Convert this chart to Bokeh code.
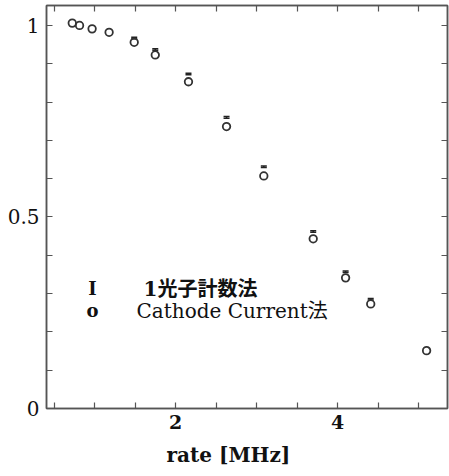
import numpy as np
from bokeh.plotting import figure
from bokeh.models import (ColumnDataSource, FixedTicker, LinearAxis, Label,
                          Whisker, TeeHead, Title)
from bokeh.embed import file_html
from bokeh.resources import INLINE

# Cathode current method: relative efficiency vs. count rate
rate_cc = [0.725, 0.815, 0.97, 1.18, 1.49, 1.75, 2.16, 2.63, 3.09, 3.70, 4.10, 4.41, 5.10]
eff_cc = [1.006, 1.000, 0.991, 0.982, 0.956, 0.923, 0.853, 0.736, 0.607, 0.443, 0.341, 0.273, 0.151]

# Single-photon counting method: value and error
rate_pc = [1.49, 1.75, 2.16, 2.63, 3.09, 3.70, 4.10, 4.41]
eff_pc = [0.967, 0.937, 0.873, 0.760, 0.631, 0.462, 0.357, 0.285]
err_pc = [0.002, 0.002, 0.002, 0.002, 0.002, 0.002, 0.002, 0.002]

x_labeled = [2, 4]
y_labeled = [0, 0.5, 1]
x_all = [float(t) for t in np.arange(0.5, 5.01, 0.5)]
y_all = [round(float(t), 1) for t in np.arange(0.0, 1.01, 0.1)]

SERIF = "DejaVu Serif, Noto Sans CJK JP"
AX = "#555555"
INK = "#111111"

p = figure(width=449, height=476, x_range=(0.407, 5.358), y_range=(0, 1.052),
           output_backend="svg", toolbar_location=None,
           min_border_left=46, min_border_right=2, min_border_top=5,
           min_border_bottom=68)
p.xgrid.visible = False
p.ygrid.visible = False
p.outline_line_color = AX
p.outline_line_width = 1.5
p.background_fill_color = "white"
p.border_fill_color = "white"


def style_axis(ax, ticker):
    ax.ticker = ticker
    ax.axis_line_color = AX
    ax.axis_line_width = 1.5
    ax.major_tick_line_color = AX
    ax.minor_tick_line_color = AX
    ax.major_tick_line_width = 1.2
    ax.minor_tick_line_width = 1.2
    ax.major_tick_in = 6
    ax.major_tick_out = 0
    ax.minor_tick_in = 6
    ax.minor_tick_out = 0


style_axis(p.xaxis[0], FixedTicker(ticks=x_labeled,
                                   minor_ticks=[t for t in x_all if t not in x_labeled]))
style_axis(p.yaxis[0], FixedTicker(ticks=y_labeled,
                                   minor_ticks=[t for t in y_all if t not in y_labeled]))
p.xaxis.major_label_text_font = SERIF
p.xaxis.major_label_text_font_size = "19px"
p.xaxis.major_label_text_font_style = "bold"
p.xaxis.major_label_text_color = INK
p.xaxis.major_label_standoff = 6
p.yaxis.major_label_text_font = SERIF
p.yaxis.major_label_text_font_size = "20px"
p.yaxis.major_label_text_color = INK
p.yaxis.major_label_standoff = 7

# mirrored tick marks on the top and right edges (ticks only, no labels)
top = LinearAxis()
right = LinearAxis()
style_axis(top, FixedTicker(ticks=[], minor_ticks=x_all))
style_axis(right, FixedTicker(ticks=[], minor_ticks=y_all))
p.add_layout(top, "above")
p.add_layout(right, "right")

# x-axis title, set slightly left of centre
p.add_layout(Title(text="rate [MHz]", align="left", offset=120, standoff=18,
                   text_font=SERIF, text_font_size="20px", text_font_style="bold",
                   text_color=INK), "below")

# cathode current points
p.scatter(rate_cc, eff_cc, marker="circle", size=7.5, fill_color=None,
          line_color="#333333", line_width=1.8)

# photon counting error bars
src_pc = ColumnDataSource(dict(
    x=rate_pc,
    upper=[v + e for v, e in zip(eff_pc, err_pc)],
    lower=[v - e for v, e in zip(eff_pc, err_pc)],
))
p.add_layout(Whisker(source=src_pc, base="x", upper="upper", lower="lower",
                     dimension="height", line_color="#222222", line_width=1.5,
                     upper_head=TeeHead(size=6, line_color="#222222", line_width=1.5),
                     lower_head=TeeHead(size=6, line_color="#222222", line_width=1.5)))

# legend drawn as text annotations
legend_rows = [("I", "\u00a01光子計数法", "bold", "18px"),
               ("o", "Cathode Current法", "normal", "18px")]
for i, (sym, txt, style, sym_size) in enumerate(legend_rows):
    ypos = 120 - i * 22
    p.add_layout(Label(x=46, y=ypos, x_units="screen", y_units="screen", text=sym,
                       text_font=SERIF, text_font_size=sym_size,
                       text_font_style="bold", text_align="center",
                       text_baseline="middle", text_color=INK))
    p.add_layout(Label(x=90, y=ypos, x_units="screen", y_units="screen", text=txt,
                       text_font=SERIF, text_font_size="20px",
                       text_font_style=style, text_align="left",
                       text_baseline="middle", text_color=INK))

open("out.html", "w").write(file_html(p, INLINE))
